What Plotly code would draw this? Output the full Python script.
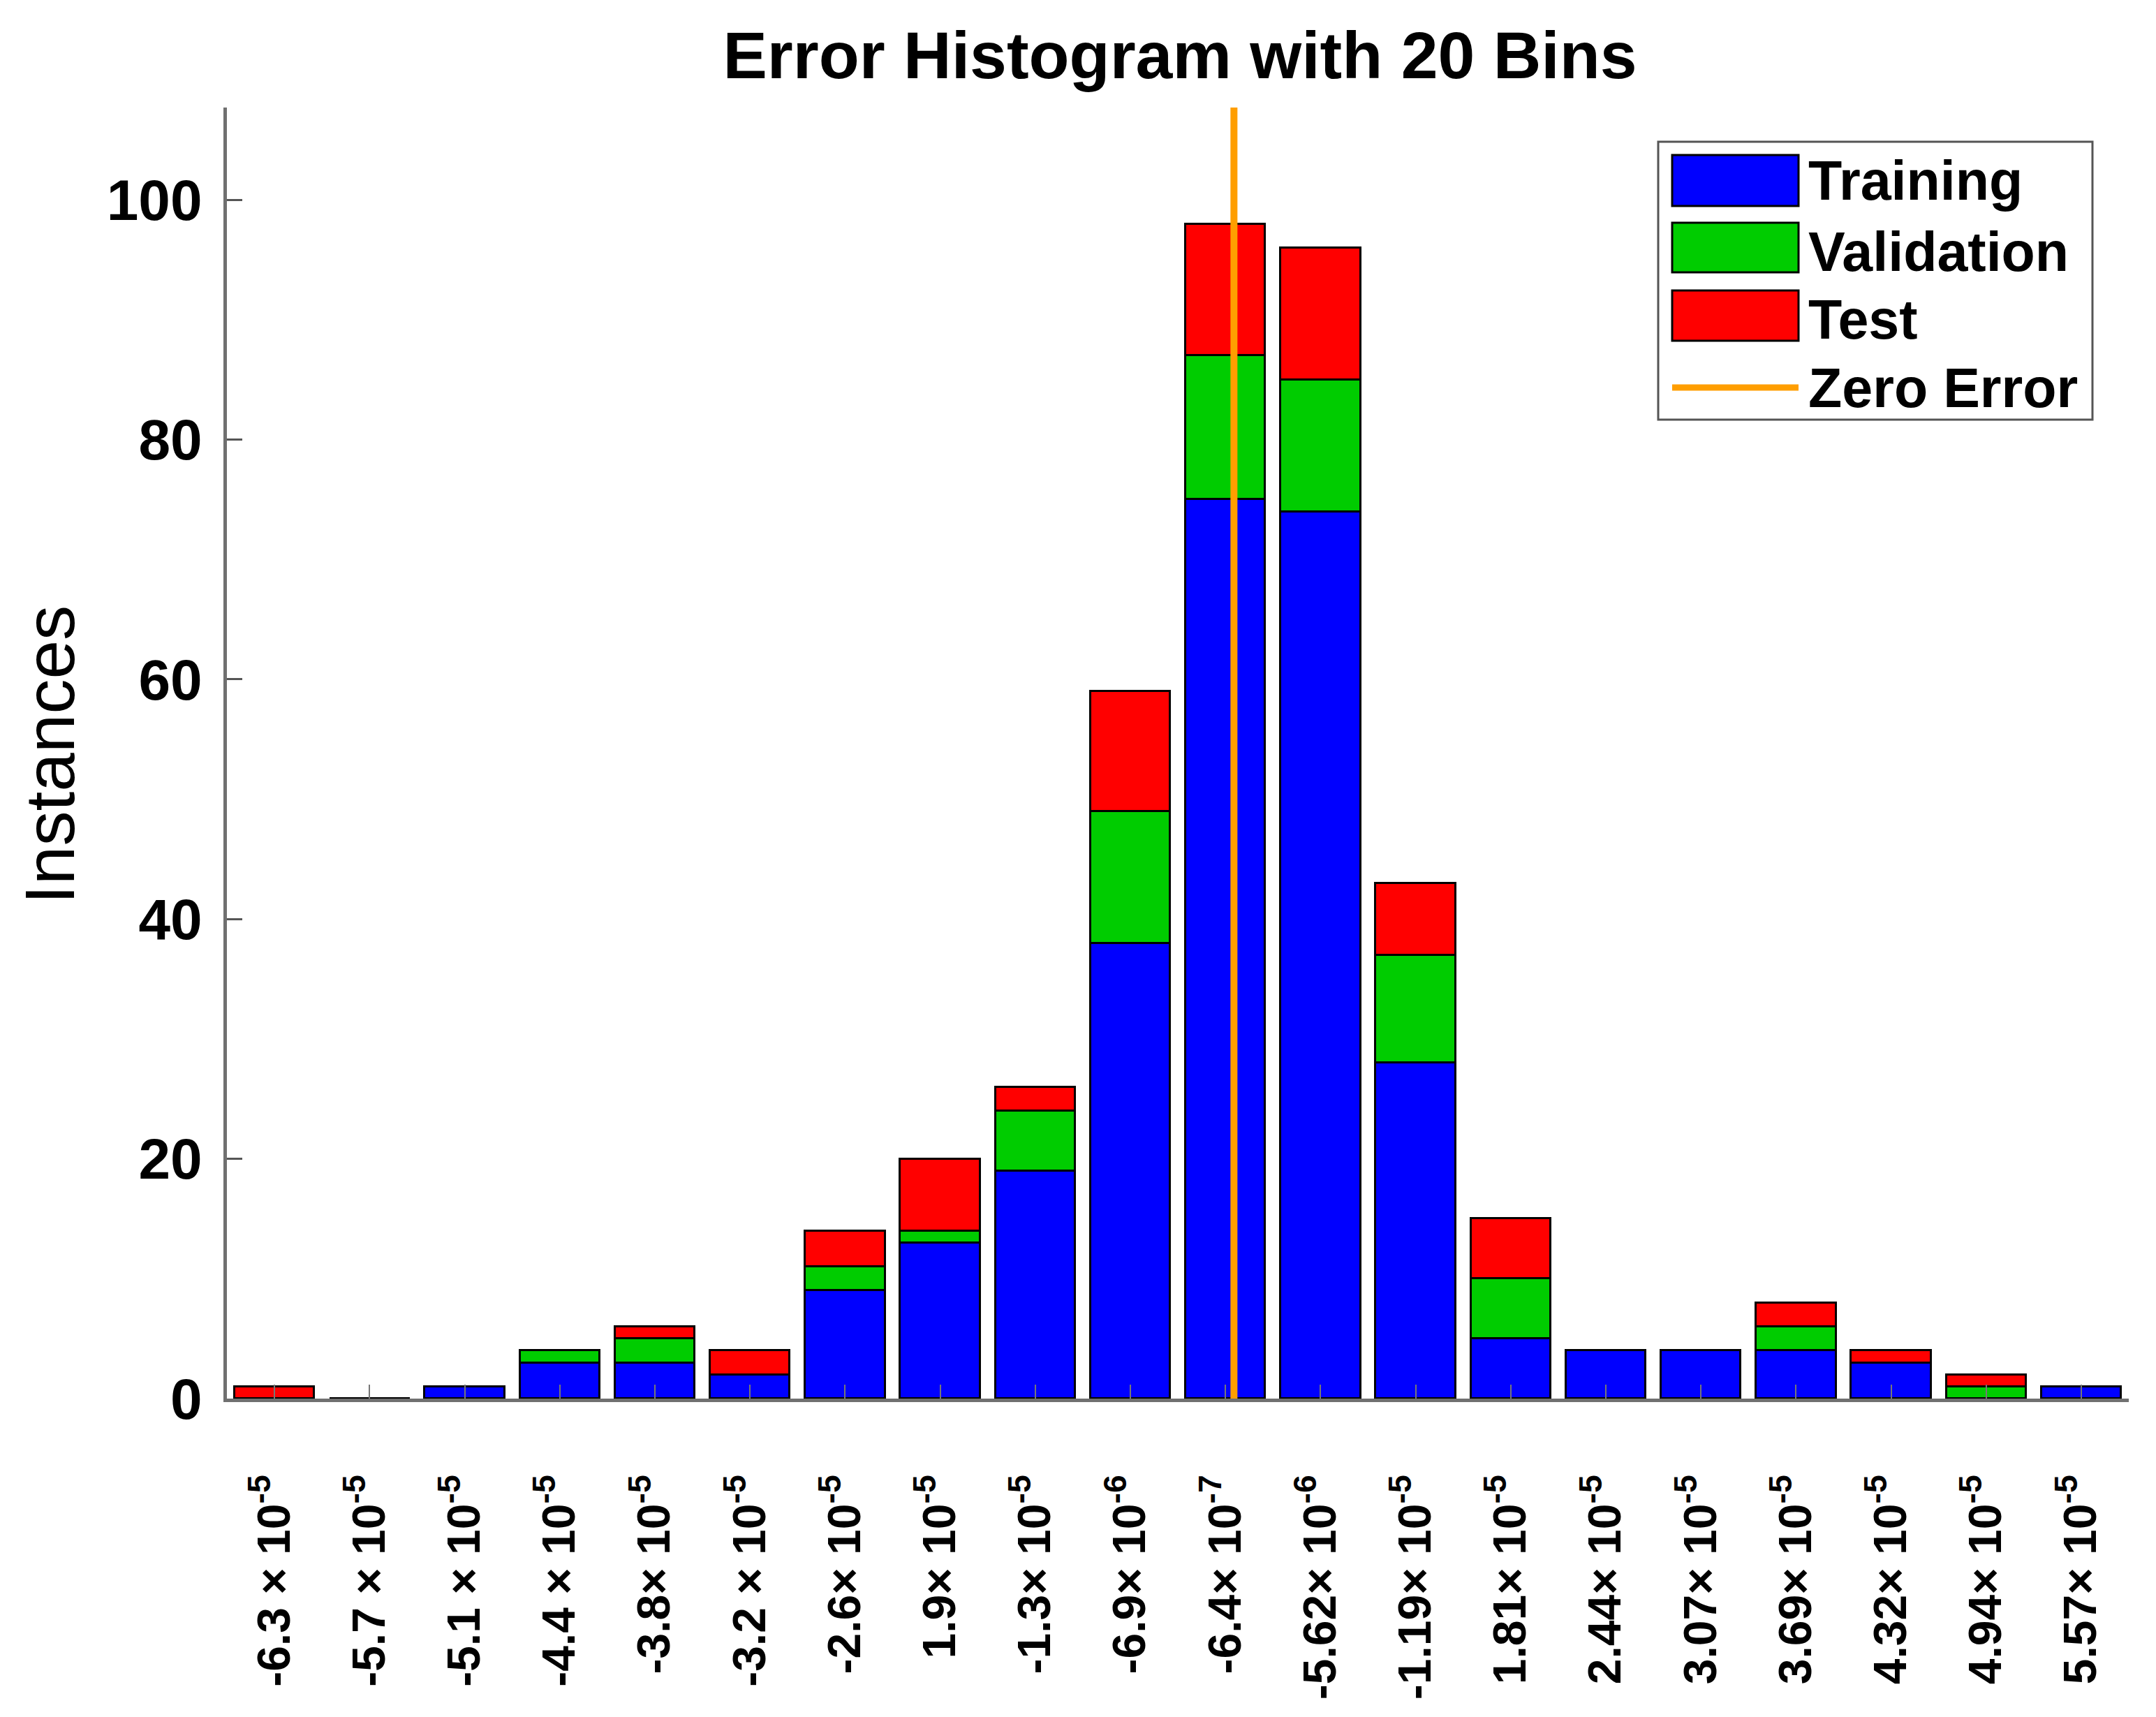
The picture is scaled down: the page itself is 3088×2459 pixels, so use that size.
import plotly.graph_objects as go

# ---------------- data ----------------
bin_labels = [
    "-6.3 × 10<sup>-5</sup>", "-5.7 × 10<sup>-5</sup>", "-5.1 × 10<sup>-5</sup>",
    "-4.4 × 10<sup>-5</sup>", "-3.8× 10<sup>-5</sup>", "-3.2 × 10<sup>-5</sup>",
    "-2.6× 10<sup>-5</sup>", "1.9× 10<sup>-5</sup>", "-1.3× 10<sup>-5</sup>",
    "-6.9× 10<sup>-6</sup>", "-6.4× 10<sup>-7</sup>", "-5.62× 10<sup>-6</sup>",
    "-1.19× 10<sup>-5</sup>", "1.81× 10<sup>-5</sup>", "2.44× 10<sup>-5</sup>",
    "3.07× 10<sup>-5</sup>", "3.69× 10<sup>-5</sup>", "4.32× 10<sup>-5</sup>",
    "4.94× 10<sup>-5</sup>", "5.57× 10<sup>-5</sup>",
]
training   = [0, 0, 1, 3, 3, 2, 9, 13, 19, 38, 75, 74, 28, 5, 4, 4, 4, 3, 0, 1]
validation = [0, 0, 0, 1, 2, 0, 2, 1, 5, 11, 12, 11, 9, 5, 0, 0, 2, 0, 1, 0]
test       = [1, 0, 0, 0, 1, 2, 3, 6, 2, 10, 11, 11, 6, 5, 0, 0, 2, 1, 1, 0]
zero_error_bin_pos = 10.09
y_max = 107.7
y_ticks = [0, 20, 40, 60, 80, 100]

# ---------------- layout constants ----------------
W, H = 3088, 2459
L, R, T, B = 325, 39, 154, 456
PW, PH = W - L - R, H - T - B
FONT = "Liberation Sans, Arial, sans-serif"

def px_x(x):
    return (x - L) / PW

def px_y(y):
    return (H - B - y) / PH

idx = list(range(len(bin_labels)))
colors = {"Training": "#0000FF", "Validation": "#00CC00", "Test": "#FF0000"}

fig = go.Figure()
for name, vals in (("Training", training), ("Validation", validation), ("Test", test)):
    fig.add_trace(go.Bar(
        x=idx, y=vals, name=name, width=0.84,
        marker=dict(color=colors[name], line=dict(color="black", width=3)),
        showlegend=False,
    ))

fig.add_trace(go.Scatter(
    x=[zero_error_bin_pos, zero_error_bin_pos], y=[0, y_max], mode="lines",
    line=dict(color="#FF9E00", width=10), name="Zero Error", showlegend=False,
))

# ---------------- custom legend ----------------
shapes = []
annotations = []
lx0, lx1 = px_x(2375), px_x(2997)
ly0, ly1 = px_y(601), px_y(203)
shapes.append(dict(type="rect", xref="paper", yref="paper", x0=lx0, x1=lx1, y0=ly0, y1=ly1,
                   line=dict(color="#555555", width=3), fillcolor="white", layer="above"))
sx0, sx1 = px_x(2395), px_x(2576)
rows = [("Training", 222, 295, 258), ("Validation", 319, 390, 360), ("Test", 416, 488, 457)]
for name, y_top, y_bot, yc in rows:
    shapes.append(dict(type="rect", xref="paper", yref="paper", x0=sx0, x1=sx1,
                       y0=px_y(y_bot), y1=px_y(y_top),
                       line=dict(color="black", width=3), fillcolor=colors[name], layer="above"))
    annotations.append(dict(xref="paper", yref="paper", x=px_x(2588), y=px_y(yc), text=name,
                            showarrow=False, xanchor="left", yanchor="middle",
                            font=dict(family=FONT, size=79, color="black", weight="bold")))
shapes.append(dict(type="line", xref="paper", yref="paper", x0=sx0, x1=sx1,
                   y0=px_y(555), y1=px_y(555), line=dict(color="#FF9E00", width=9), layer="above"))
annotations.append(dict(xref="paper", yref="paper", x=px_x(2588), y=px_y(555), text="Zero Error",
                        showarrow=False, xanchor="left", yanchor="middle",
                        font=dict(family=FONT, size=79, color="black", weight="bold")))

# y-axis title
annotations.append(dict(xref="paper", yref="paper", x=px_x(71), y=px_y(1081), text="Instances",
                        textangle=-90, showarrow=False, xanchor="center", yanchor="middle",
                        font=dict(family=FONT, size=100, color="black")))

fig.update_layout(
    width=W, height=H,
    margin=dict(l=L, r=R, t=T, b=B, pad=0),
    paper_bgcolor="white", plot_bgcolor="white",
    barmode="stack", bargap=0,
    title=dict(text="<b>Error Histogram with 20 Bins</b>", xref="paper", x=px_x(1690),
               xanchor="center", y=1 - 79 / H, yanchor="middle",
               font=dict(family=FONT, size=95, color="black")),
    xaxis=dict(
        range=[-0.5, 19.5], tickmode="array", tickvals=idx, ticktext=bin_labels,
        tickangle=-90, tickfont=dict(family=FONT, size=66, color="black", weight="bold"),
        ticks="inside", ticklen=20, tickwidth=2, tickcolor="#777777",
        ticklabelstandoff=78,
        showline=True, linecolor="#707070", linewidth=5, showgrid=False, zeroline=False,
    ),
    yaxis=dict(
        range=[0, y_max], tickmode="array", tickvals=y_ticks,
        tickfont=dict(family=FONT, size=82, color="black", weight="bold"),
        ticks="inside", ticklen=22, tickwidth=3, tickcolor="#555555",
        ticklabelstandoff=14,
        showline=True, linecolor="#707070", linewidth=5, showgrid=False, zeroline=False,
    ),
    shapes=shapes, annotations=annotations,
)

fig.write_html("out.html")
